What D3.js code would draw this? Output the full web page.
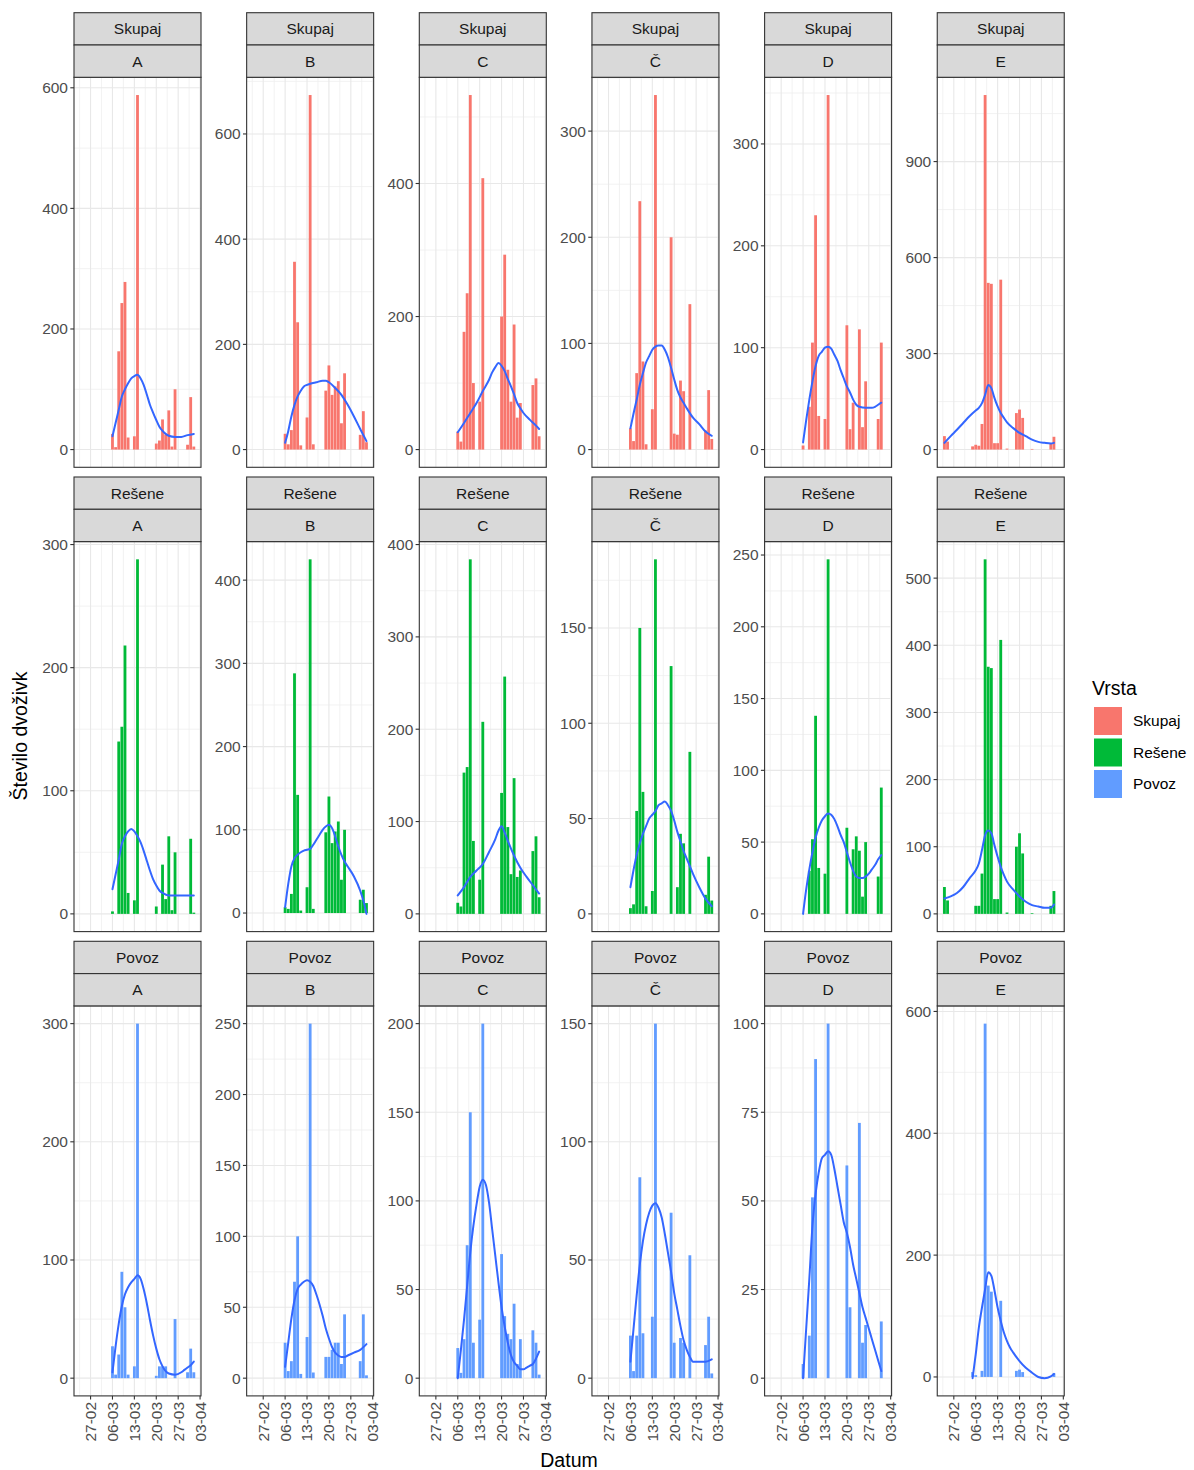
<!DOCTYPE html>
<html>
<head>
<meta charset="utf-8">
<script src="https://cdn.jsdelivr.net/npm/d3@7"></script>
<style>
  body { margin: 0; background: #fff; }
  svg { display: block; }
  text { font-family: "Liberation Sans", Arial, sans-serif; }
</style>
</head>
<body>
<svg id="chart" width="1194" height="1470"></svg>
<script>
// ---- categories ----
const vrste = ["Skupaj", "Rešene", "Povoz"];
const lokacije = ["A", "B", "C", "Č", "D", "E"];
const barve = ["#F8766D", "#00BA38", "#619CFF"];

// ---- x axis ticks (weekly) ----
const datumTicki = ["2021-02-27", "2021-03-06", "2021-03-13", "2021-03-20", "2021-03-27", "2021-04-03"];
const datumOznake = ["27-02", "06-03", "13-03", "20-03", "27-03", "03-04"];

// ---- first day of each daily series ----
const zacetkiSkupaj = ["2021-03-06", "2021-03-06", "2021-03-06", "2021-03-06", "2021-03-06", "2021-02-24"];
const zacetkiResene = ["2021-03-06", "2021-03-06", "2021-03-06", "2021-03-06", "2021-03-06", "2021-02-24"];
const zacetkiPovoz  = ["2021-03-06", "2021-03-06", "2021-03-06", "2021-03-06", "2021-03-06", "2021-03-05"];

// ---- daily counts: Skupaj (0 = nothing counted) ----
const skupajA  = [26, 4, 163, 243, 278, 20, 0, 22, 588, 0, 0, 0, 0, 0, 10, 15, 50, 25, 65, 5, 100, 0, 0, 0, 8, 87, 5];
const skupajB  = [30, 10, 37, 357, 242, 8, 0, 61, 674, 10, 0, 0, 0, 112, 160, 104, 120, 130, 50, 145, 0, 0, 0, 0, 28, 73, 14];
const skupajC  = [27, 12, 177, 235, 533, 100, 0, 72, 408, 0, 0, 0, 0, 0, 200, 293, 120, 72, 188, 48, 70, 0, 0, 0, 97, 107, 20];
const skupajCh = [20, 8, 72, 234, 83, 5, 0, 38, 334, 0, 0, 0, 0, 200, 15, 14, 65, 55, 0, 137, 0, 0, 0, 0, 18, 56, 10];
const skupajD  = [4, 0, 42, 105, 230, 33, 0, 30, 348, 0, 0, 0, 0, 0, 122, 20, 46, 0, 118, 22, 67, 0, 0, 0, 30, 105];
const skupajE  = [42, 25, 0, 0, 0, 0, 0, 0, 0, 10, 15, 12, 80, 1108, 521, 518, 20, 20, 531, 0, 3, 0, 0, 114, 125, 99, 0, 0, 2, 0, 0, 0, 0, 0, 20, 40];

// ---- daily counts: Rešene ----
const reseneA  = [2, 0, 140, 152, 218, 17, 0, 11, 288, 0, 0, 0, 0, 0, 6, 0, 40, 12, 63, 3, 50, 0, 0, 0, 0, 61, 1];
const reseneB  = [7, 5, 23, 288, 142, 3, 0, 31, 425, 5, 0, 0, 0, 97, 140, 84, 98, 110, 40, 100, 0, 0, 0, 0, 16, 28, 12];
const reseneC  = [12, 8, 153, 159, 384, 79, 0, 37, 208, 0, 0, 0, 0, 0, 131, 257, 94, 43, 147, 40, 47, 0, 0, 0, 68, 84, 18];
const reseneCh = [3, 5, 54, 150, 64, 4, 0, 12, 186, 0, 0, 0, 0, 130, 0, 14, 42, 37, 0, 85, 0, 0, 0, 0, 10, 30, 7];
const reseneD  = [0, 0, 30, 52, 138, 32, 0, 28, 247, 0, 0, 0, 0, 0, 60, 0, 45, 54, 44, 12, 50, 0, 0, 0, 26, 88];
const reseneE  = [40, 20, 0, 0, 0, 0, 0, 0, 0, 0, 12, 12, 60, 528, 368, 366, 22, 22, 408, 0, 2, 0, 0, 100, 120, 90, 0, 0, 1, 0, 0, 0, 0, 0, 12, 34];

// ---- daily counts: Povoz ----
const povozA  = [27, 3, 20, 90, 60, 3, 0, 10, 300, 0, 0, 0, 0, 0, 2, 10, 10, 10, 0, 0, 50, 0, 0, 0, 5, 25, 5];
const povozB  = [25, 5, 12, 68, 100, 3, 0, 29, 250, 4, 0, 0, 0, 15, 15, 20, 25, 25, 10, 45, 0, 0, 0, 0, 12, 45, 2];
const povozC  = [17, 3, 22, 75, 150, 20, 0, 33, 200, 0, 0, 0, 0, 0, 70, 35, 25, 22, 42, 8, 22, 0, 0, 0, 27, 20, 2];
const povozCh = [18, 3, 18, 85, 19, 0, 0, 26, 150, 0, 0, 0, 0, 70, 15, 0, 17, 15, 0, 52, 0, 0, 0, 0, 14, 26, 2];
const povozD  = [4, 0, 12, 51, 90, 0, 0, 0, 100, 0, 0, 0, 0, 0, 60, 20, 0, 0, 72, 10, 15, 0, 0, 0, 0, 16];
const povozE  = [8, 3, 0, 10, 580, 150, 140, 0, 0, 125, 0, 0, 0, 0, 10, 12, 8, 0, 0, 0, 0, 0, 0, 0, 0, 0, 6];

// ---- smoothed trend: [days after 2021-03-06, value] ----
const trendOsnova = "2021-03-06";
const trendSkupaj = [
  [[0,22],[1,44],[2,66],[3,88],[4,100],[5,110],[6,118],[7,122],[8,124],[9,118],[10,107],[11,91],[12,74],[13,61],[14,49],[15,38],[16,31],[17,26],[18,23],[20,21],[22,21],[24,24],[26,26]],
  [[0,13],[1,35],[2,63],[3,85],[4,101],[5,112],[6,120],[7,123],[8,125],[10,128],[12,131],[13,131],[14,128],[16,117],[18,104],[20,85],[22,63],[24,39],[26,16]],
  [[0,26],[2,40],[4,55],[6,70],[8,88],[10,105],[11,116],[12,124],[13,130],[14,126],[15,118],[16,106],[17,95],[18,83],[19,70],[20,62],[21,55],[23,45],[25,36],[26,31]],
  [[0,20],[1,34],[2,47],[3,61],[4,72],[5,82],[6,88],[7,94],[8,97],[9,98],[10,98],[11,94],[12,87],[13,77],[14,66],[15,56],[16,49],[17,44],[18,39],[20,30],[22,24],[24,17],[26,13]],
  [[0,7],[1,29],[2,49],[3,67],[4,82],[5,92],[6,96],[7,100],[8,101],[9,99],[10,93],[11,87],[12,78],[13,70],[14,62],[15,56],[16,49],[17,44],[18,42],[20,41],[22,41],[23,42],[24,44],[25,46]],
  [[-10,21],[-8,42],[-6,62],[-4,83],[-2,104],[0,122],[1,130],[2,145],[3,171],[4,202],[5,192],[6,161],[7,135],[8,114],[9,99],[10,85],[12,67],[14,52],[16,42],[18,31],[20,24],[22,21],[24,19],[25,21]]
];
const trendResene = [
  [[0,20],[1,32],[2,44],[3,57],[4,63],[5,67],[6,69],[7,67],[8,63],[9,58],[10,51],[11,43],[12,35],[13,28],[14,23],[15,19],[16,17],[18,15],[20,15],[22,15],[24,15],[26,15]],
  [[0,7],[1,35],[2,56],[3,66],[4,70],[5,73],[6,75],[7,76],[8,77],[9,82],[10,88],[11,94],[12,100],[13,104],[14,106],[15,102],[16,92],[17,80],[18,70],[19,62],[20,56],[22,44],[24,27],[25,15],[26,-1]],
  [[0,20],[2,29],[4,40],[6,47],[8,54],[10,67],[12,81],[13,90],[14,95],[15,88],[16,79],[18,63],[20,50],[22,40],[24,31],[26,22]],
  [[0,14],[1,23],[2,31],[3,37],[4,42],[5,46],[6,50],[7,52],[8,54],[9,57],[10,58],[11,59],[12,57],[13,54],[14,49],[15,43],[16,38],[17,33],[18,29],[20,21],[22,14],[24,8],[26,4]],
  [[0,0],[1,17],[2,31],[3,43],[4,53],[5,60],[6,65],[7,68],[8,70],[9,69],[10,66],[11,61],[12,55],[13,50],[14,43],[15,36],[16,30],[17,26],[18,25],[19,25],[20,26],[21,28],[22,31],[23,34],[24,38],[25,41]],
  [[-10,23],[-8,26],[-6,31],[-4,40],[-2,53],[0,65],[1,75],[2,95],[3,117],[4,124],[5,120],[6,102],[7,85],[8,70],[9,58],[10,48],[12,36],[14,26],[16,18],[18,13],[20,11],[22,9],[24,9],[25,14]]
];
const trendPovoz = [
  [[0,5],[1,27],[2,46],[3,61],[4,71],[5,77],[6,81],[7,84],[8,87],[9,84],[10,75],[11,63],[12,49],[13,36],[14,25],[15,16],[16,10],[17,6],[18,4],[20,3],[22,5],[23,7],[24,9],[25,11],[26,14]],
  [[0,8],[1,25],[2,42],[3,55],[4,63],[5,66],[6,68],[7,69],[8,68],[9,65],[10,59],[11,52],[12,44],[13,35],[14,28],[15,22],[16,18],[17,16],[18,15],[19,15],[20,16],[22,18],[24,20],[26,24]],
  [[0,0],[1,16],[2,33],[3,52],[4,71],[5,86],[6,98],[7,108],[8,112],[9,109],[10,99],[11,84],[12,69],[13,54],[14,40],[15,29],[16,20],[17,13],[18,9],[19,7],[20,5],[21,5],[22,6],[23,7],[24,8],[25,11],[26,15]],
  [[0,7],[1,21],[2,35],[3,48],[4,58],[5,65],[6,70],[7,73],[8,74],[9,72],[10,68],[11,61],[12,53],[13,45],[14,36],[15,29],[16,22],[17,16],[18,12],[19,9],[20,7],[22,7],[24,7],[26,8]],
  [[0,0],[1,14],[2,28],[3,43],[4,52],[5,58],[6,62],[7,63],[8,64],[9,63],[10,59],[11,54],[12,49],[13,44],[14,41],[15,37],[16,32],[17,28],[18,24],[19,20],[20,17],[21,14],[22,11],[23,8],[24,5],[25,2]],
  [[-1,-2],[0,37],[1,81],[2,114],[3,144],[4,172],[5,166],[6,142],[7,114],[8,92],[9,73],[10,59],[11,48],[12,40],[14,26],[16,15],[18,7],[20,0],[22,-2],[24,1],[25,5]]
];

// ---- y axis breaks per panel ----
const tickiSkupaj = [[0, 200, 400, 600], [0, 200, 400, 600], [0, 200, 400], [0, 100, 200, 300], [0, 100, 200, 300], [0, 300, 600, 900]];
const tickiResene = [[0, 100, 200, 300], [0, 100, 200, 300, 400], [0, 100, 200, 300, 400], [0, 50, 100, 150], [0, 50, 100, 150, 200, 250], [0, 100, 200, 300, 400, 500]];
const tickiPovoz  = [[0, 100, 200, 300], [0, 50, 100, 150, 200, 250], [0, 50, 100, 150, 200], [0, 50, 100, 150], [0, 25, 50, 75, 100], [0, 200, 400, 600]];

// ---- assemble panels ----
const vrednosti = [
  [skupajA, skupajB, skupajC, skupajCh, skupajD, skupajE],
  [reseneA, reseneB, reseneC, reseneCh, reseneD, reseneE],
  [povozA, povozB, povozC, povozCh, povozD, povozE]
];
const zacetki = [zacetkiSkupaj, zacetkiResene, zacetkiPovoz];
const trendi = [trendSkupaj, trendResene, trendPovoz];
const ticki = [tickiSkupaj, tickiResene, tickiPovoz];

const DAY = 86400000;
const parse = s => new Date(s + "T00:00:00Z");
const trendT0 = parse(trendOsnova).getTime();

const panels = [];
vrste.forEach((v, r) => {
  lokacije.forEach((l, c) => {
    const t0 = parse(zacetki[r][c]).getTime();
    const rows = vrednosti[r][c]
      .map((n, i) => ({ date: new Date(t0 + i * DAY), n }))
      .filter(d => d.n > 0);
    const smooth = trendi[r][c].map(([k, y]) => ({ date: new Date(trendT0 + k * DAY), y }));
    panels.push({ r, c, vrsta: v, lok: l, rows, smooth, ticks: ticki[r][c] });
  });
});

// ---- layout ----
const plotLeft0 = 74, colStep = 172.65, plotW = 127;
const stripTop0 = 12.7, stripH = 32.3, rowStep = 464.3, plotH = 390;

// shared x scale (bars 0.9 day wide, 5% expansion)
const allDates = panels.flatMap(p => p.rows.map(d => d.date.getTime()));
const xmin = d3.min(allDates) - 0.45 * DAY, xmax = d3.max(allDates) + 0.45 * DAY;
const xpad = (xmax - xmin) * 0.05;
const xDomain = [new Date(xmin - xpad), new Date(xmax + xpad)];

const svg = d3.select("#chart");
svg.append("rect").attr("width", 1194).attr("height", 1470).attr("fill", "#fff");

const tickDates = datumTicki.map(parse);
const minorDates = [];
for (let i = -1; i < tickDates.length; i++) {
  const base = i >= 0 ? tickDates[i].getTime() : tickDates[0].getTime() - 7 * DAY;
  minorDates.push(new Date(base + 3.5 * DAY));
}

panels.forEach((p, idx) => {
  const left = plotLeft0 + p.c * colStep;
  const stripTop = stripTop0 + p.r * rowStep;
  const top = stripTop + 2 * stripH;
  const bottom = top + plotH;

  const x = d3.scaleUtc().domain(xDomain).range([left, left + plotW]);
  const yLo = Math.min(0, d3.min(p.smooth, d => d.y));
  const yHi = Math.max(d3.max(p.rows, d => d.n), d3.max(p.smooth, d => d.y));
  const ypad = (yHi - yLo) * 0.05;
  const y = d3.scaleLinear().domain([yLo - ypad, yHi + ypad]).range([bottom, top]);

  const g = svg.append("g");
  g.append("rect").attr("x", left).attr("y", top).attr("width", plotW).attr("height", plotH).attr("fill", "#fff");

  // minor grid
  const step = p.ticks[1] - p.ticks[0];
  const yMinor = d3.range(p.ticks[0] - step / 2, p.ticks[p.ticks.length - 1] + step, step)
    .filter(v => v >= y.domain()[0] && v <= y.domain()[1]);
  g.selectAll(null).data(yMinor).join("line")
    .attr("x1", left).attr("x2", left + plotW)
    .attr("y1", d => y(d)).attr("y2", d => y(d))
    .attr("stroke", "#EFEFEF").attr("stroke-width", 0.8);
  g.selectAll(null).data(minorDates.filter(d => d >= xDomain[0] && d <= xDomain[1])).join("line")
    .attr("x1", d => x(d)).attr("x2", d => x(d))
    .attr("y1", top).attr("y2", bottom)
    .attr("stroke", "#EFEFEF").attr("stroke-width", 0.8);

  // major grid
  g.selectAll(null).data(p.ticks).join("line")
    .attr("x1", left).attr("x2", left + plotW)
    .attr("y1", d => y(d)).attr("y2", d => y(d))
    .attr("stroke", "#E8E8E8").attr("stroke-width", 1.1);
  g.selectAll(null).data(tickDates).join("line")
    .attr("x1", d => x(d)).attr("x2", d => x(d))
    .attr("y1", top).attr("y2", bottom)
    .attr("stroke", "#E8E8E8").attr("stroke-width", 1.1);

  const clipId = "clip" + idx;
  g.append("clipPath").attr("id", clipId)
    .append("rect").attr("x", left).attr("y", top).attr("width", plotW).attr("height", plotH);
  const inner = g.append("g").attr("clip-path", `url(#${clipId})`);

  // bars
  inner.selectAll(null).data(p.rows).join("rect")
    .attr("x", d => x(new Date(d.date.getTime() - 0.45 * DAY)))
    .attr("width", d => x(new Date(d.date.getTime() + 0.45 * DAY)) - x(new Date(d.date.getTime() - 0.45 * DAY)))
    .attr("y", d => y(d.n))
    .attr("height", d => y(0) - y(d.n))
    .attr("fill", barve[p.r]);

  // smoothed trend
  inner.append("path").datum(p.smooth)
    .attr("d", d3.line().curve(d3.curveMonotoneX).x(d => x(d.date)).y(d => y(d.y)))
    .attr("fill", "none").attr("stroke", "#3366FF").attr("stroke-width", 2)
    .attr("stroke-linejoin", "round").attr("stroke-linecap", "round");

  // border
  g.append("rect").attr("x", left).attr("y", top).attr("width", plotW).attr("height", plotH)
    .attr("fill", "none").attr("stroke", "#333").attr("stroke-width", 1.1);

  // y axis
  g.selectAll(null).data(p.ticks).join("line")
    .attr("x1", left - 3.7).attr("x2", left)
    .attr("y1", d => y(d)).attr("y2", d => y(d))
    .attr("stroke", "#333").attr("stroke-width", 1.1);
  g.selectAll(null).data(p.ticks).join("text")
    .attr("x", left - 6).attr("y", d => y(d)).attr("dy", "0.35em")
    .attr("text-anchor", "end").attr("font-size", 15.5).attr("fill", "#4D4D4D")
    .text(d => d);

  // strips
  [p.vrsta, p.lok].forEach((label, k) => {
    const sy = stripTop + k * stripH;
    g.append("rect").attr("x", left).attr("y", sy).attr("width", plotW).attr("height", stripH)
      .attr("fill", "#D9D9D9").attr("stroke", "#333").attr("stroke-width", 1.1);
    g.append("text").attr("x", left + plotW / 2).attr("y", sy + stripH / 2).attr("dy", "0.35em")
      .attr("text-anchor", "middle").attr("font-size", 15.5).attr("fill", "#1A1A1A").text(label);
  });

  // x axis on bottom row
  if (p.r === vrste.length - 1) {
    g.selectAll(null).data(tickDates).join("line")
      .attr("x1", d => x(d)).attr("x2", d => x(d))
      .attr("y1", bottom).attr("y2", bottom + 3.7)
      .attr("stroke", "#333").attr("stroke-width", 1.1);
    g.selectAll(null).data(tickDates).join("text")
      .attr("transform", d => `translate(${x(d)},${bottom + 6}) rotate(-90)`)
      .attr("dy", "0.35em").attr("text-anchor", "end")
      .attr("font-size", 15.5).attr("fill", "#4D4D4D")
      .text((d, i) => datumOznake[i]);
  }
});

// axis titles
svg.append("text").attr("transform", "translate(27,736) rotate(-90)")
  .attr("text-anchor", "middle").attr("font-size", 19.5).attr("fill", "#000").text("Število dvoživk");
svg.append("text").attr("x", 569).attr("y", 1467)
  .attr("text-anchor", "middle").attr("font-size", 19.5).attr("fill", "#000").text("Datum");

// legend
const leg = svg.append("g");
leg.append("text").attr("x", 1092).attr("y", 695).attr("font-size", 19.5).attr("fill", "#000").text("Vrsta");
vrste.forEach((v, i) => {
  const ky = 707 + i * 31.5;
  leg.append("rect").attr("x", 1094).attr("y", ky).attr("width", 28).attr("height", 28).attr("fill", barve[i]);
  leg.append("text").attr("x", 1133).attr("y", ky + 14).attr("dy", "0.35em")
    .attr("font-size", 15.5).attr("fill", "#000").text(v);
});
</script>
</body>
</html>
